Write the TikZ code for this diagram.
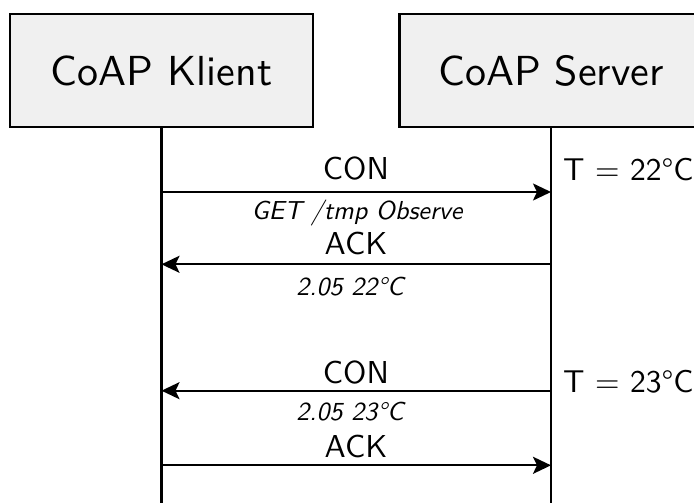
\documentclass[tikz,border=0pt]{standalone}
\usepackage{fontspec}
% 10pt design size of Latin Modern Sans at every size
\setsansfont{lmsans10-regular.otf}[ItalicFont=lmsans10-oblique.otf,
  BoldFont=lmsans10-bold.otf]
\usetikzlibrary{arrows.meta}
\definecolor{boxgray}{HTML}{F0F0F0}
\begin{document}
\begin{tikzpicture}[x=1pt,y=-1pt,
  actor/.style={draw, line width=2.2pt, fill=boxgray, minimum width=303pt,
    minimum height=113pt, inner sep=0pt,
    font=\sffamily\fontsize{42}{50}\selectfont},
  life/.style={line width=2.1pt},
  msg/.style={line width=2.1pt, -{Stealth[length=18pt,width=17pt,inset=4pt]}},
  msglabel/.style={anchor=base, inner sep=0pt,
    font=\sffamily\fontsize{31.7}{36}\selectfont},
  msgnote/.style={anchor=base, inner sep=0pt,
    font=\sffamily\itshape\fontsize{26}{30}\selectfont},
  tempnote/.style={anchor=base west, inner sep=0pt,
    font=\sffamily\fontsize{31.5}{36}\selectfont}]
\useasboundingbox (0,0) rectangle (694,503);
\clip (0,0) rectangle (694,503);

% participants
\node[actor] (klient) at (161.5,70.5) {CoAP Klient};
\node[actor] (server) at (551,70.5) {CoAP Server};

% lifelines
\coordinate (kbottom) at (klient.south |- 0,503);
\coordinate (sbottom) at (server.south |- 0,503);
\draw[life] (klient.south) -- (kbottom);
\draw[life] (server.south) -- (sbottom);

% message anchor points on the lifelines
\coordinate (k1) at (klient.south |- 0,192);
\coordinate (s1) at (server.south |- 0,192);
\coordinate (k2) at (klient.south |- 0,264.3);
\coordinate (s2) at (server.south |- 0,264.3);
\coordinate (k3) at (klient.south |- 0,390.7);
\coordinate (s3) at (server.south |- 0,390.7);
\coordinate (k4) at (klient.south |- 0,465.3);
\coordinate (s4) at (server.south |- 0,465.3);

% messages
\draw[msg] (k1) -- (s1);
\draw[msg] (s2) -- (k2);
\draw[msg] (s3) -- (k3);
\draw[msg] (k4) -- (s4);

% message labels
\node[msglabel] (con1) at (356,179) {CON};
\node[msgnote] (get) at (357,219) {GET /tmp Observe};
\node[msglabel] (ack1) at (356,254) {ACK};
\node[msgnote] (resp1) at (350,295.7) {2.05 22°C};
\node[msglabel] (con2) at (356,383.3) {CON};
\node[msgnote] (resp2) at (350,420) {2.05 23°C};
\node[msglabel] (ack2) at (356,457.3) {ACK};

% server-side temperature readings
\node[tempnote] (t22) at (563,180) {T = 22°C};
\node[tempnote] (t23) at (563,392) {T = 23°C};
\end{tikzpicture}
\end{document}
